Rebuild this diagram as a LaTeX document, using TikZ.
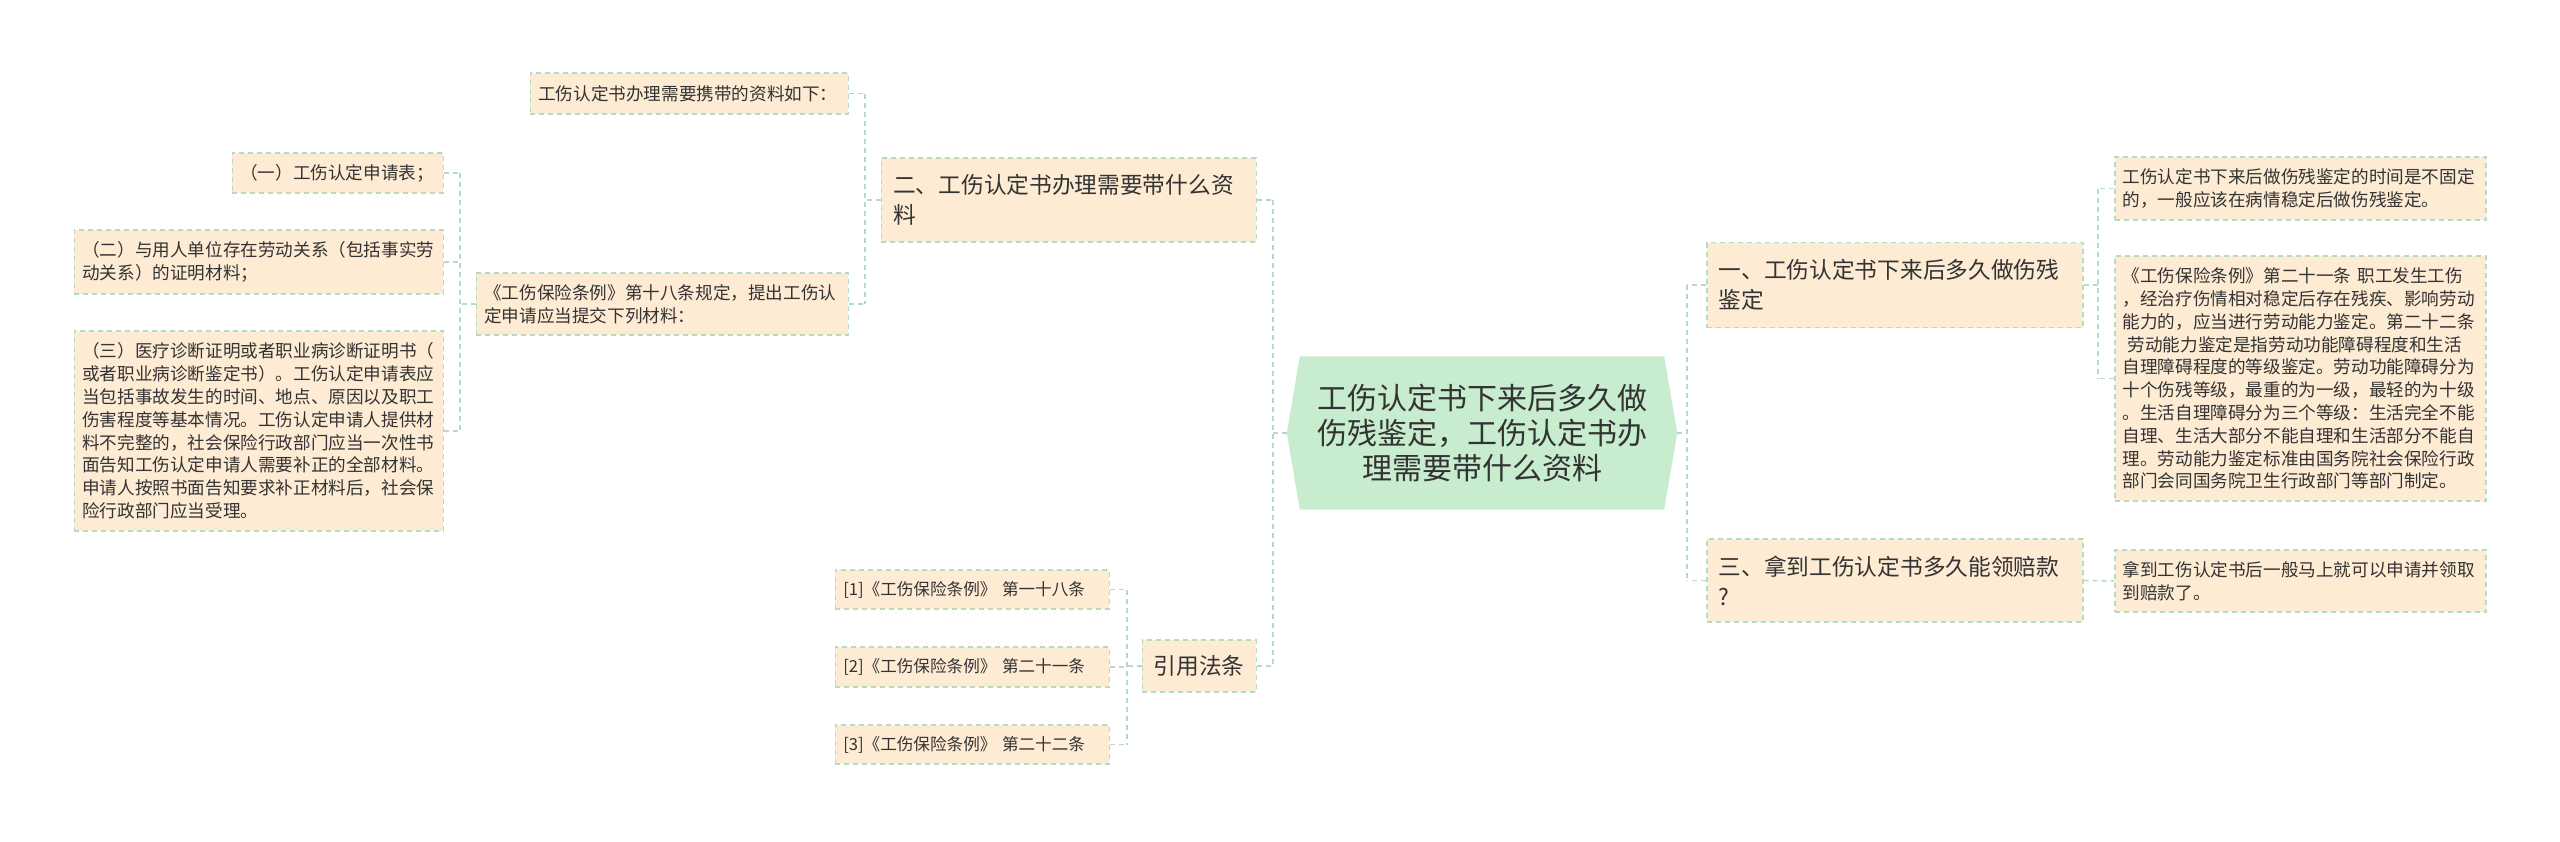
\documentclass[tikz,border=0pt]{standalone}
\usepackage{fontspec}
\setmainfont{Noto Sans CJK SC}
\usetikzlibrary{backgrounds,calc}
\definecolor{peach}{RGB}{253,235,212}
\definecolor{lnk}{RGB}{181,220,194}
\definecolor{rootg}{RGB}{199,236,206}
\definecolor{txt}{RGB}{51,51,51}
\begin{document}
\begin{tikzpicture}[x=1pt,y=-1pt,
  box/.style={fill=peach, draw=lnk, dash pattern=on 5pt off 4pt, line width=1.5pt, text=txt, inner xsep=8pt, inner ysep=0pt, align=left},
  leaf/.style={box, font=\fontsize{17.6}{22.8}\selectfont},
  reff/.style={box, font=\fontsize{16.6}{22}\selectfont},
  lvl/.style={box, font=\fontsize{22.7}{30}\selectfont, inner xsep=12pt},
  conn/.style={draw=lnk, dash pattern=on 5pt off 4pt, line width=1.5pt}]
\begin{scope}[on background layer]
\fill[white] (0,0) rectangle (2560,841);
\end{scope}
\useasboundingbox (0,0) rectangle (2560,841);

% root
\node[font=\fontsize{30}{35}\selectfont, text=txt, align=center, minimum width=390pt, minimum height=153pt, inner sep=0pt] (root) at (1482,433) {工伤认定书下来后多久做\\伤残鉴定，工伤认定书办\\理需要带什么资料};
\begin{scope}[on background layer]
\fill[rootg] (root.west) -- ([xshift=13pt]root.north west) -- ([xshift=-13pt]root.north east) -- (root.east) -- ([xshift=-13pt]root.south east) -- ([xshift=13pt]root.south west) -- cycle;
\end{scope}

% right side
\node[lvl, anchor=west, text width=352pt, minimum height=85pt] (n1) at (1706,285) {一、工伤认定书下来后多久做伤残\\鉴定};
\node[leaf, anchor=west, text width=355pt, minimum height=63pt] (n1a) at (2114,188.5) {工伤认定书下来后做伤残鉴定的时间是不固定\\的，一般应该在病情稳定后做伤残鉴定。};
\node[leaf, anchor=west, text width=355pt, minimum height=245pt] (n1b) at (2114,378.5) {《工伤保险条例》第二十一条 职工发生工伤\\，经治疗伤情相对稳定后存在残疾、影响劳动\\能力的，应当进行劳动能力鉴定。第二十二条\\\hspace*{5pt}劳动能力鉴定是指劳动功能障碍程度和生活\\自理障碍程度的等级鉴定。劳动功能障碍分为\\十个伤残等级，最重的为一级，最轻的为十级\\。生活自理障碍分为三个等级：生活完全不能\\自理、生活大部分不能自理和生活部分不能自\\理。劳动能力鉴定标准由国务院社会保险行政\\部门会同国务院卫生行政部门等部门制定。};
\node[lvl, anchor=west, text width=352pt, minimum height=83pt] (n3) at (1706,580.5) {三、拿到工伤认定书多久能领赔款\\?};
\node[leaf, anchor=west, text width=355pt, minimum height=62pt] (n3a) at (2114,581) {拿到工伤认定书后一般马上就可以申请并领取\\到赔款了。};

% left side
\node[lvl, anchor=east, text width=351pt, minimum height=84pt] (n2) at (1257,200) {二、工伤认定书办理需要带什么资\\料};
\node[leaf, anchor=east, text width=302pt, minimum height=41pt] (n2a) at (849,93.5) {工伤认定书办理需要携带的资料如下：};
\node[leaf, anchor=east, text width=356pt, minimum height=62pt] (n2b) at (849,304) {《工伤保险条例》第十八条规定，提出工伤认\\定申请应当提交下列材料：};
\node[leaf, anchor=east, text width=195pt, minimum height=40pt] (n2b1) at (444,173) {（一）工伤认定申请表；};
\node[leaf, anchor=east, text width=353pt, minimum height=64pt] (n2b2) at (444,262) {（二）与用人单位存在劳动关系（包括事实劳\\动关系）的证明材料；};
\node[leaf, anchor=east, text width=353pt, minimum height=200pt] (n2b3) at (444,431) {（三）医疗诊断证明或者职业病诊断证明书（\\或者职业病诊断鉴定书）。工伤认定申请表应\\当包括事故发生的时间、地点、原因以及职工\\伤害程度等基本情况。工伤认定申请人提供材\\料不完整的，社会保险行政部门应当一次性书\\面告知工伤认定申请人需要补正的全部材料。\\申请人按照书面告知要求补正材料后，社会保\\险行政部门应当受理。};

\node[lvl, anchor=east, align=center, text width=91pt, inner xsep=11.5pt, minimum height=52pt] (ref) at (1257,666) {引用法条};
\node[reff, anchor=east, text width=258pt, minimum height=39pt] (ref1) at (1110,589.5) {[1]《工伤保险条例》 第一十八条};
\node[reff, anchor=east, text width=258pt, minimum height=40pt] (ref2) at (1110,667) {[2]《工伤保险条例》 第二十一条};
\node[reff, anchor=east, text width=258pt, minimum height=39pt] (ref3) at (1110,744.5) {[3]《工伤保险条例》 第二十二条};

% trunk coordinates
\coordinate (tL) at (1273,0);
\coordinate (tR) at (1687,0);
\coordinate (t1) at (2098,0);
\coordinate (t2) at (865,0);
\coordinate (t2b) at (460,0);
\coordinate (tRef) at (1127,0);

% root left
\draw[conn] (root.west) -- (root.west -| tL);
\draw[conn] (n2.east -| tL) -- (ref.east -| tL);
\draw[conn] (n2.east) -- (n2.east -| tL);
\draw[conn] (ref.east) -- (ref.east -| tL);
% root right
\draw[conn] (root.east) -- (root.east -| tR);
\draw[conn] (n1.west -| tR) -- (n3.west -| tR);
\draw[conn] (n1.west) -- (n1.west -| tR);
\draw[conn] (n3.west) -- (n3.west -| tR);
% n1 group
\draw[conn] (n1.east) -- (n1.east -| t1);
\draw[conn] (n1a.west -| t1) -- (n1b.west -| t1);
\draw[conn] (n1a.west) -- (n1a.west -| t1);
\draw[conn] (n1b.west) -- (n1b.west -| t1);
% n3
\draw[conn] (n3.east) -- (n3a.west);
% n2 group
\draw[conn] (n2.west) -- (n2.west -| t2);
\draw[conn] (n2a.east -| t2) -- (n2b.east -| t2);
\draw[conn] (n2a.east) -- (n2a.east -| t2);
\draw[conn] (n2b.east) -- (n2b.east -| t2);
% n2b group
\draw[conn] (n2b.west) -- (n2b.west -| t2b);
\draw[conn] (n2b1.east -| t2b) -- (n2b3.east -| t2b);
\draw[conn] (n2b1.east) -- (n2b1.east -| t2b);
\draw[conn] (n2b2.east) -- (n2b2.east -| t2b);
\draw[conn] (n2b3.east) -- (n2b3.east -| t2b);
% ref group
\draw[conn] (ref.west) -- (ref.west -| tRef);
\draw[conn] (ref1.east -| tRef) -- (ref3.east -| tRef);
\draw[conn] (ref1.east) -- (ref1.east -| tRef);
\draw[conn] (ref2.east) -- (ref2.east -| tRef);
\draw[conn] (ref3.east) -- (ref3.east -| tRef);
\end{tikzpicture}
\end{document}
